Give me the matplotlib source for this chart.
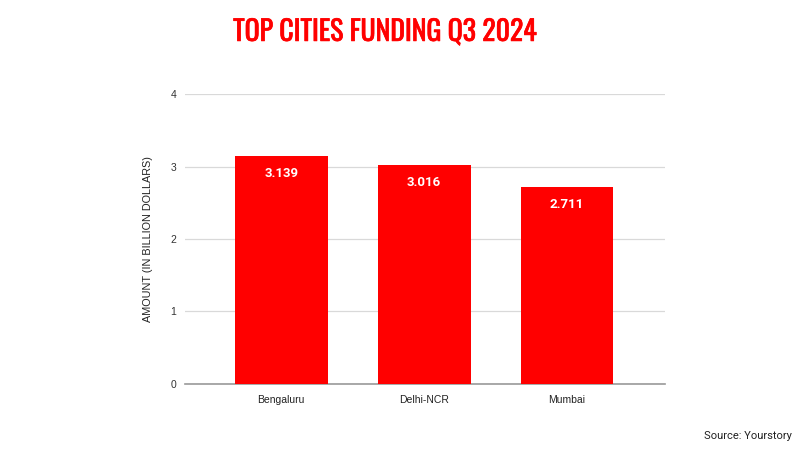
import matplotlib.pyplot as plt
import matplotlib.patheffects as pe
from matplotlib import font_manager

# chart data
cities = ["Bengaluru", "Delhi-NCR", "Mumbai"]
funding = [3.139, 3.016, 2.711]
y_ticks = [0, 1, 2, 3, 4]

RED = "#ff0000"

installed = {f.name for f in font_manager.fontManager.ttflist}


def pick(*candidates):
    for name in candidates:
        if name in installed:
            return name
    return "DejaVu Sans"


title_font = pick("Oswald", "Bebas Neue", "Roboto Condensed", "Asap Condensed", "Liberation Sans Narrow")
body_font = pick("Arimo", "Liberation Sans")
value_font = pick("Roboto", "Liberation Sans")

fig = plt.figure(figsize=(8, 4.5), dpi=100)
ax = fig.add_axes([0.231, 0.1467, 0.6, 0.6444])

x = range(len(cities))
ax.bar(x, funding, width=0.65, color=RED, zorder=3)

for i, v in zip(x, funding):
    ax.text(i, v - 0.24, f"{v:.3f}", ha="center", va="center",
            color="white", fontsize=9.5, fontweight="bold",
            family=value_font, zorder=4)

ax.set_xlim(-0.675, 2.685)
ax.set_ylim(0, 4)
ax.set_yticks(y_ticks)
ax.set_xticks(list(x))
ax.set_xticklabels(cities, family=body_font, fontsize=7.5, color="#222222")
for lbl in ax.get_yticklabels():
    lbl.set_family(body_font)
    lbl.set_fontsize(7.5)
    lbl.set_color("#333333")

ax.grid(axis="y", color="#d9d9d9", linewidth=0.9, zorder=0)
ax.tick_params(axis="y", length=0, pad=6)
ax.tick_params(axis="x", length=0, pad=8)
for side in ["top", "right", "left"]:
    ax.spines[side].set_visible(False)
ax.spines["bottom"].set_color("#999999")
ax.spines["bottom"].set_linewidth(1.2)

ax.set_ylabel("AMOUNT (IN BILLION DOLLARS)", family=body_font,
              fontsize=7.8, color="#222222", labelpad=13)

fig.text(0.481, 0.928, "TOP CITIES FUNDING Q3 2024", ha="center", va="center",
         color=RED, fontsize=20, fontweight="bold", family=title_font,
         path_effects=[pe.withStroke(linewidth=0.5, foreground=RED)])
fig.text(0.99, 0.031, "Source: Yourstory", ha="right", va="center",
         fontsize=8, color="#222222", family=value_font)

fig.savefig("out.png", dpi=100)
